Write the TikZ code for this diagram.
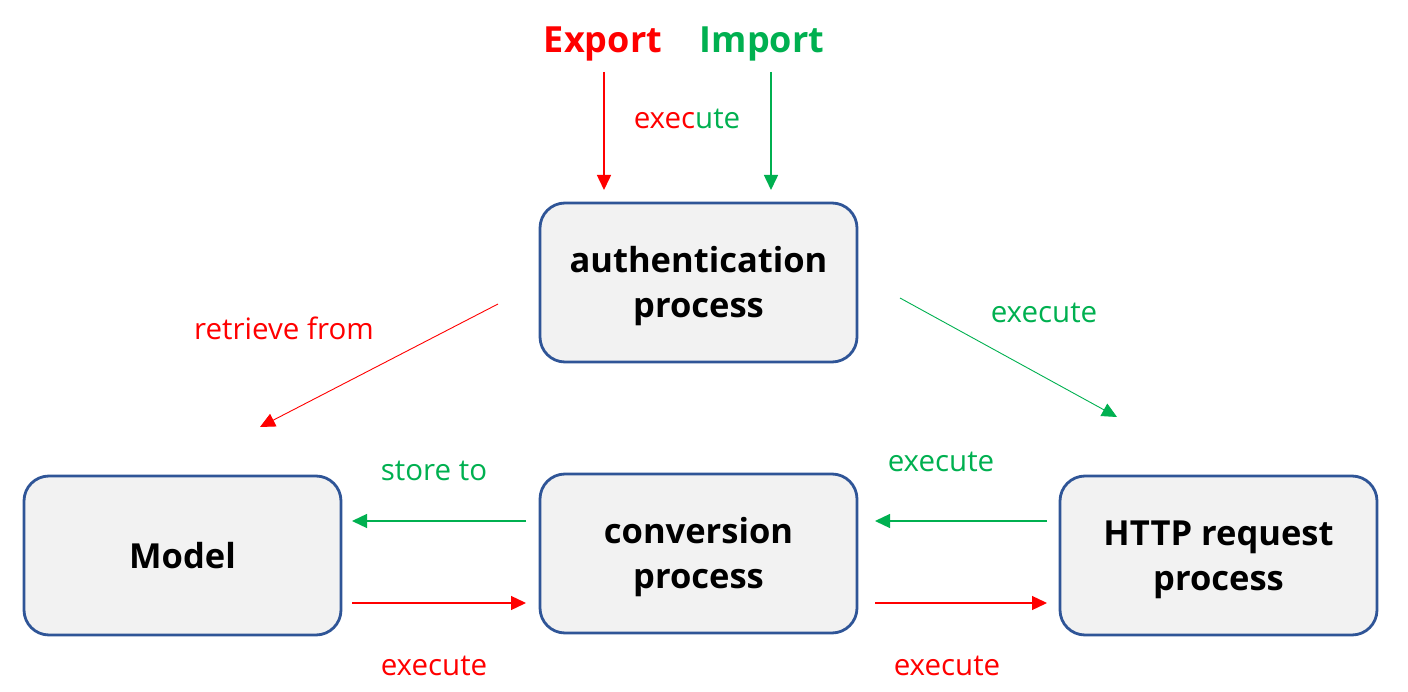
\documentclass[tikz,border=0pt]{standalone}
\usepackage{fontspec}
\setmainfont{Open Sans}
\usetikzlibrary{arrows.meta}
\definecolor{bd}{HTML}{2F5597}
\definecolor{bx}{HTML}{F2F2F2}
\definecolor{gr}{HTML}{00B050}
\definecolor{rd}{HTML}{FF0000}
\tikzset{
  procbox/.style={draw=bd, line width=2.8pt, fill=bx, rounded corners=25pt,
    minimum width=317pt, minimum height=159pt, inner sep=0pt},
  boxtext/.style={align=center, font=\bfseries\fontsize{34.5}{45}\selectfont, inner sep=0pt},
  lbl/.style={font=\fontsize{29.5}{34}\selectfont, inner sep=0pt},
  ttl/.style={font=\bfseries\fontsize{36}{40}\selectfont, inner sep=0pt},
  arr/.style={-{Triangle[length=15pt,width=14pt]}, line width=1.3pt},
}
\begin{document}
\begin{tikzpicture}[x=1pt,y=-1pt]
\useasboundingbox (0,0) rectangle (1408,692);
\node[procbox] (auth) at (698.5,282.5) {};
\node[boxtext] (authT) at ([yshift=-4pt]auth.center) {authentication\\process};
\node[procbox] (model) at (182.5,555.5) {};
\node[boxtext] (modelT) at (model.center) {Model};
\node[procbox] (conv) at (698.5,553.5) {};
\node[boxtext] (convT) at ([yshift=-4pt]conv.center) {conversion\\process};
\node[procbox] (http) at (1218.5,555.5) {};
\node[boxtext] (httpT) at ([yshift=-4pt]http.center) {HTTP request\\process};

\node[ttl, text=rd] (export) at (603,44) {Export};
\node[ttl, text=gr] (import) at (762,44) {Import};

\coordinate (e1) at (604,72);
\coordinate (e2) at (604,190);
\coordinate (i1) at (771,72);
\coordinate (i2) at (771,190);
\draw[arr, rd, line width=1.5pt] (e1) -- (e2);
\draw[arr, gr, line width=1.5pt] (i1) -- (i2);
\node[lbl] (exlbl) at (687,119) {\textcolor{rd}{exec}\textcolor{gr}{ute}};

\coordinate (r1) at (498,304);
\coordinate (r2) at (260,427);
\draw[arr, rd, line width=0.9pt] (r1) -- (r2);
\node[lbl, text=rd] (retr) at (284,328) {retrieve from};

\coordinate (g1) at (900,298);
\coordinate (g2) at (1117,417);
\draw[arr, gr, line width=0.9pt] (g1) -- (g2);
\node[lbl, text=gr] (exg) at (1044,313) {execute};

\coordinate (s1) at (526,521);
\coordinate (s2) at (352,521);
\draw[arr, gr] (s1) -- (s2);
\node[lbl, text=gr] (store) at (434,471) {store to};

\coordinate (m1) at (352,603);
\coordinate (m2) at (526,603);
\draw[arr, rd] (m1) -- (m2);
\node[lbl, text=rd] (exm) at (434,666) {execute};

\coordinate (h1) at (1047,521);
\coordinate (h2) at (875,521);
\draw[arr, gr] (h1) -- (h2);
\node[lbl, text=gr] (exh) at (941,462) {execute};

\coordinate (c1) at (875,603);
\coordinate (c2) at (1047,603);
\draw[arr, rd] (c1) -- (c2);
\node[lbl, text=rd] (exc) at (947,666) {execute};
\end{tikzpicture}
\end{document}
